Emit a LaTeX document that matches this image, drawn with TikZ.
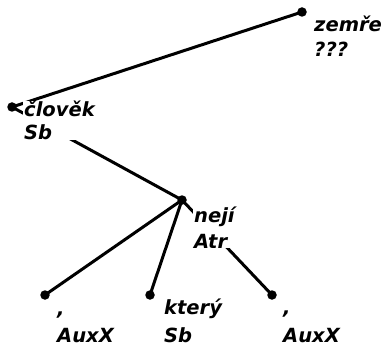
\documentclass[tikz,border=0pt]{standalone}
\usepackage{fontspec}
\setmainfont{DejaVu Sans}
\begin{document}
\begin{tikzpicture}[x=1pt,y=-1pt,
  dot/.style={circle,fill=black,inner sep=0pt,minimum size=9.5pt},
  edge/.style={line width=3pt},
  lbl/.style={anchor=base west,align=left,fill=white,inner xsep=1pt,inner ysep=0pt,
    font=\bfseries\itshape\fontsize{19.5}{#1}\selectfont}]
\useasboundingbox[fill=white] (0,0) rectangle (387,347);
% dots
\node[dot] (zemre) at (302,12) {};
\node[dot] (clovek) at (12,107) {};
\node[dot] (neji) at (182,200) {};
\node[dot] (c1) at (45,295) {};
\node[dot] (ktery) at (150,295) {};
\node[dot] (c2) at (272,295) {};
% edges
\draw[edge] (zemre.center) -- (clovek.center);
\draw[edge] (clovek.center) -- (neji.center);
\draw[edge] (neji.center) -- (c1.center);
\draw[edge] (neji.center) -- (ktery.center);
\draw[edge] (neji.center) -- (c2.center);
% labels (anchored at the baseline of the last line)
\node[lbl=25] (lzemre) at (313,57) {zemře\\???};
\node[lbl=23] (lclovek) at (23,140) {člověk\\Sb};
\node[lbl=26] (lneji) at (193,248) {nejí\\Atr};
\node[lbl=27] (lc1) at (56,342) {,\\AuxX};
\node[lbl=28] (lktery) at (163,342) {který\\Sb};
\node[lbl=28] (lc2) at (282,342) {,\\AuxX};
\end{tikzpicture}
\end{document}
